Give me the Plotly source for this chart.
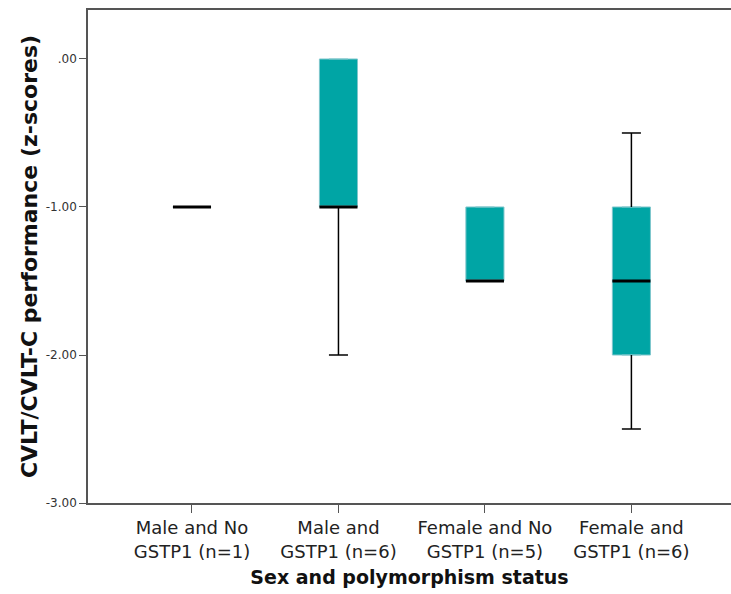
import plotly.graph_objects as go

# ---- data ----
categories = ["Male and No<br>GSTP1 (n=1)", "Male and<br>GSTP1 (n=6)",
              "Female and No<br>GSTP1 (n=5)", "Female and<br>GSTP1 (n=6)"]
q1 = [-1.0, -1.0, -1.5, -2.0]
median = [-1.0, -1.0, -1.5, -1.5]
q3 = [-1.0, 0.0, -1.0, -1.0]
whisker_low = [-1.0, -2.0, -1.5, -2.5]
whisker_high = [-1.0, 0.0, -1.0, -0.5]
y_tickvals = [0, -1, -2, -3]
y_ticktext = [".00", "-1.00", "-2.00", "-3.00"]

TEAL = "#00A5A5"
BOX_W = 0.26
CAP_W = 0.13

fig = go.Figure()
xs = list(range(len(categories)))

# boxes
for i in xs:
    fig.add_trace(go.Box(
        x=[i], q1=[q1[i]], median=[median[i]], q3=[q3[i]],
        lowerfence=[q1[i]], upperfence=[q3[i]],
        width=BOX_W, fillcolor=TEAL, line=dict(color="#7fc6cc", width=1),
        boxpoints=False, showlegend=False, hoverinfo="skip"))

# whiskers
wx, wy = [], []
for i in xs:
    if whisker_low[i] < q1[i]:
        wx += [i, i, None, i - CAP_W / 2, i + CAP_W / 2, None]
        wy += [q1[i], whisker_low[i], None, whisker_low[i], whisker_low[i], None]
    if whisker_high[i] > q3[i]:
        wx += [i, i, None, i - CAP_W / 2, i + CAP_W / 2, None]
        wy += [q3[i], whisker_high[i], None, whisker_high[i], whisker_high[i], None]
fig.add_trace(go.Scatter(x=wx, y=wy, mode="lines",
                         line=dict(color="black", width=1.5),
                         showlegend=False, hoverinfo="skip"))

# medians
mx, my = [], []
for i in xs:
    mx += [i - BOX_W / 2, i + BOX_W / 2, None]
    my += [median[i], median[i], None]
fig.add_trace(go.Scatter(x=mx, y=my, mode="lines",
                         line=dict(color="black", width=3),
                         showlegend=False, hoverinfo="skip"))

fig.update_layout(
    width=731, height=594,
    margin=dict(l=88, r=0, t=10, b=91),
    plot_bgcolor="white", paper_bgcolor="white",
    font=dict(family="DejaVu Sans", color="#222"),
    xaxis=dict(
        range=[-0.71, 3.68], tickmode="array", tickvals=xs, ticktext=categories,
        showline=True, linecolor="#555", linewidth=1.5, mirror=True,
        ticks="outside", ticklen=8, tickcolor="#555", tickwidth=1,
        showgrid=False, zeroline=False, automargin=False,
        tickfont=dict(size=18, family="DejaVu Sans", color="#222"),
        title=dict(text="<b>Sex and polymorphism status</b>",
                   font=dict(size=19, family="DejaVu Sans", color="#111"),
                   standoff=10),
    ),
    yaxis=dict(
        range=[-3, 0.331], tickmode="array", tickvals=y_tickvals, ticktext=y_ticktext,
        showline=True, linecolor="#555", linewidth=1.5, mirror=False,
        ticks="outside", ticklen=7, tickcolor="#555", tickwidth=1,
        showgrid=False, zeroline=False, automargin=False,
        tickfont=dict(size=12, family="DejaVu Sans", color="#333"),
        title=dict(text="<b>CVLT/CVLT-C performance (z-scores)</b>",
                   font=dict(size=22, family="DejaVu Sans", color="#111"),
                   standoff=2),
    ),
)

fig.write_html(
    "out.html",
    config={"displayModeBar": False},
    post_script="document.body.style.margin='0';document.body.style.overflow='hidden';",
)
